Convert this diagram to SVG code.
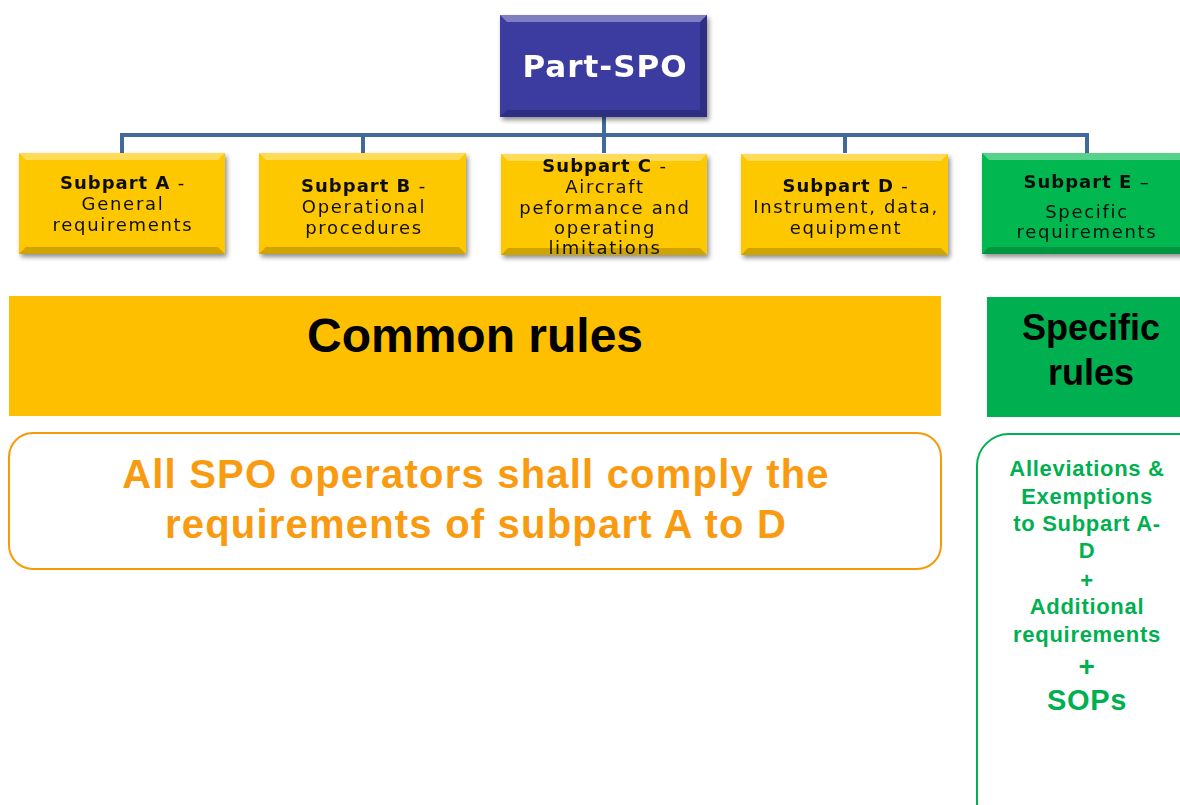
<svg xmlns="http://www.w3.org/2000/svg" width="1180" height="805" viewBox="0 0 1180 805">
  <defs>
    <filter id="shadow" x="-10%" y="-10%" width="125%" height="130%">
      <feGaussianBlur in="SourceAlpha" stdDeviation="2.5"/>
      <feOffset dx="2" dy="3" result="b"/>
      <feComponentTransfer><feFuncA type="linear" slope="0.45"/></feComponentTransfer>
      <feMerge><feMergeNode/><feMergeNode in="SourceGraphic"/></feMerge>
    </filter>
  </defs>
  <style>
    .sub text { font-family: "DejaVu Sans", Verdana, sans-serif; font-size: 18px; fill: #111; text-anchor: middle; letter-spacing: 1.7px; }
    .sub .b { font-weight: bold; letter-spacing: 1px; }
    .yel { fill: #fdc800; }
    .grn { fill: #00b850; }
    .hi { fill: #ffffff; opacity: 0.35; }
    .lo { fill: #000000; opacity: 0.18; }
    .conn { fill: none; stroke: #41699a; stroke-width: 4; }
    .big { font-family: "Liberation Sans", Arial, sans-serif; font-weight: bold; text-anchor: middle; }
  </style>

  <!-- tree connectors -->
  <g id="connectors">
    <path class="conn" d="M604 117 V135 M122 153 V135 H1087 V153 M363 135 V153 M604 135 V153 M845 135 V153"/>
  </g>

  <!-- root node -->
  <g id="part-spo" filter="url(#shadow)">
    <rect x="500" y="15" width="207" height="102" fill="#3a3aa0"/>
    <polygon class="hi" points="500,15 707,15 700,22 507,22"/>
    <polygon class="lo" points="500,117 707,117 700,110 507,110"/>
    <polygon class="lo" points="707,15 707,117 700,110 700,22" opacity="0.1"/>
    <text x="605" y="77" font-family="'DejaVu Sans', Verdana, sans-serif" font-weight="bold" font-size="31" letter-spacing="1" fill="#ffffff" text-anchor="middle">Part-SPO</text>
  </g>

  <g id="subpart-a" class="sub" filter="url(#shadow)">
    <rect class="yel" x="19" y="153" width="206" height="101"/>
    <polygon class="hi" points="19,153 225,153 218,160 26,160"/>
    <polygon class="lo" points="19,254 225,254 218,247 26,247"/>
    <text x="123" y="189"><tspan class="b">Subpart A</tspan> -</text>
    <text x="123" y="210">General</text>
    <text x="123" y="231">requirements</text>
  </g>

  <g id="subpart-b" class="sub" filter="url(#shadow)">
    <rect class="yel" x="259" y="153" width="207" height="101"/>
    <polygon class="hi" points="259,153 466,153 459,160 266,160"/>
    <polygon class="lo" points="259,254 466,254 459,247 266,247"/>
    <text x="364" y="192"><tspan class="b">Subpart B</tspan> -</text>
    <text x="364" y="213">Operational</text>
    <text x="364" y="234">procedures</text>
  </g>

  <g id="subpart-c" class="sub" filter="url(#shadow)">
    <rect class="yel" x="501" y="154" width="206" height="101"/>
    <polygon class="hi" points="501,154 707,154 700,161 508,161"/>
    <polygon class="lo" points="501,255 707,255 700,248 508,248"/>
    <text x="605" y="172"><tspan class="b">Subpart C</tspan> -</text>
    <text x="605" y="193">Aircraft</text>
    <text x="605" y="214">peformance and</text>
    <text x="605" y="234">operating</text>
    <text x="605" y="254">limitations</text>
  </g>

  <g id="subpart-d" class="sub" filter="url(#shadow)">
    <rect class="yel" x="741" y="154" width="207" height="101"/>
    <polygon class="hi" points="741,154 948,154 941,161 748,161"/>
    <polygon class="lo" points="741,255 948,255 941,248 748,248"/>
    <text x="846" y="192"><tspan class="b">Subpart D</tspan> -</text>
    <text x="846" y="213">Instrument, data,</text>
    <text x="846" y="234">equipment</text>
  </g>

  <g id="subpart-e" class="sub" filter="url(#shadow)">
    <rect class="grn" x="982" y="153" width="206" height="101"/>
    <polygon class="hi" points="982,153 1188,153 1181,160 989,160" opacity="0.25"/>
    <polygon class="lo" points="982,254 1188,254 1181,247 989,247"/>
    <text x="1087" y="188"><tspan class="b">Subpart E</tspan> –</text>
    <text x="1087" y="218">Specific</text>
    <text x="1087" y="238">requirements</text>
  </g>

  <!-- band headings -->
  <g id="common-rules">
    <rect x="9" y="296" width="932" height="120" fill="#fdbf00"/>
    <text class="big" x="475" y="352" font-size="48" fill="#000">Common rules</text>
  </g>

  <g id="specific-rules">
    <rect x="987" y="297" width="193" height="120" fill="#00b050"/>
    <text class="big" x="1091" y="340" font-size="36" fill="#000">Specific</text>
    <text class="big" x="1091" y="385" font-size="36" fill="#000">rules</text>
  </g>

  <g id="common-note">
    <rect x="9" y="433" width="932" height="136" rx="24" fill="#fff" stroke="#f79a0a" stroke-width="2"/>
    <text class="big" x="476" y="488" font-size="40" letter-spacing="1.2" fill="#f99b10">All SPO operators shall comply the</text>
    <text class="big" x="476" y="538" font-size="40" letter-spacing="1.2" fill="#f99b10">requirements of subpart A to D</text>
  </g>

  <g id="specific-note">
    <rect x="977" y="434" width="240" height="400" rx="32" fill="#fff" stroke="#00b050" stroke-width="2"/>
    <g class="big" font-size="22" letter-spacing="0.7" fill="#00b050">
      <text x="1087" y="476">Alleviations &amp;</text>
      <text x="1087" y="504">Exemptions</text>
      <text x="1087" y="531">to Subpart A-</text>
      <text x="1087" y="558">D</text>
      <text x="1087" y="588">+</text>
      <text x="1087" y="614">Additional</text>
      <text x="1087" y="642">requirements</text>
      <text x="1087" y="676" font-size="28">+</text>
      <text x="1087" y="710" font-size="29">SOPs</text>
    </g>
  </g>
</svg>
